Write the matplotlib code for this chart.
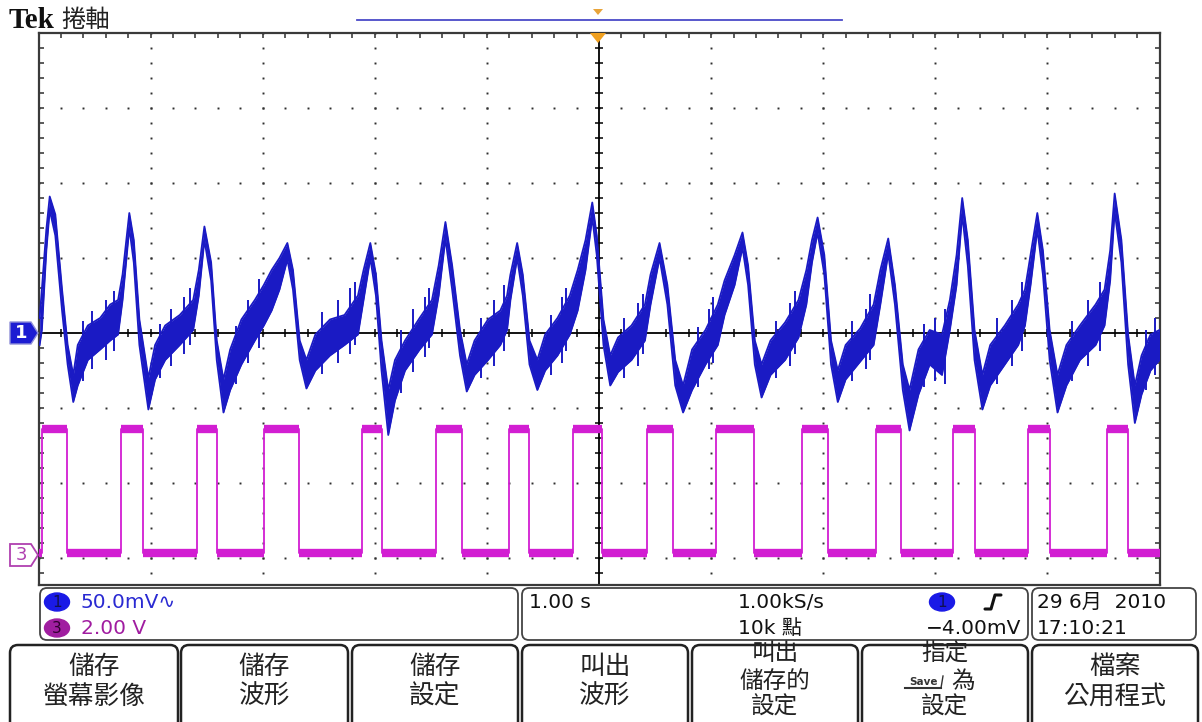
import matplotlib
matplotlib.use("Agg")
import matplotlib.pyplot as plt
import numpy as np
from matplotlib.patches import FancyBboxPatch, Polygon, Ellipse

plt.rcParams['font.family'] = ['DejaVu Sans', 'Noto Sans CJK TC']

# ---- acquisition settings ----
time_per_div_s = 1.00
ch1_mv_per_div = 50.0
ch3_v_per_div = 2.00
ch1_position_div = 0.0
ch3_position_div = -3.0
trigger_level_mv = -4.00

# ---- channel 1: min/max envelope of the acquired record ----
ch1_t = [
    -4.99, -4.97, -4.93, -4.90, -4.85, -4.79, -4.74, -4.69, -4.65, -4.56, -4.45, -4.36, -4.29,
    -4.25, -4.19, -4.15, -4.10, -4.02, -3.96, -3.87, -3.74, -3.62,
    -3.57, -3.52, -3.46, -3.41, -3.35, -3.29, -3.19, -3.07, -2.99,
    -2.92, -2.85, -2.78, -2.73, -2.67, -2.61, -2.53, -2.40, -2.27, -2.15,
    -2.10, -2.04, -1.99, -1.94, -1.88, -1.82, -1.73, -1.60, -1.49,
    -1.43, -1.37, -1.31, -1.24, -1.18, -1.11, -0.99, -0.88, -0.82,
    -0.79, -0.73, -0.68, -0.62, -0.55, -0.48, -0.37, -0.26,
    -0.19, -0.12, -0.06, -0.02, 0.04, 0.10, 0.17, 0.29, 0.41,
    0.46, 0.54, 0.61, 0.68, 0.75, 0.83, 0.95, 1.06,
    1.12, 1.21, 1.28, 1.33, 1.39, 1.45, 1.53, 1.66, 1.78,
    1.85, 1.90, 1.95, 2.01, 2.07, 2.13, 2.20, 2.33, 2.45,
    2.51, 2.58, 2.64, 2.71, 2.77, 2.85, 2.95, 3.06, 3.13,
    3.19, 3.24, 3.29, 3.35, 3.42, 3.49, 3.62, 3.74, 3.80,
    3.85, 3.91, 3.96, 4.02, 4.09, 4.17, 4.29, 4.43, 4.51,
    4.56, 4.60, 4.66, 4.72, 4.78, 4.84, 4.92, 5.00,
]
ch1_max_mv = [
    10, 29, 69, 91, 79, 29, -8, -28, -8, 5, 10, 19, 22,
    39, 80, 62, 9, -30, -8, 5, 12, 22,
    42, 71, 47, -5, -31, -11, 9, 22, 32,
    42, 50, 60, 42, -5, -18, -1, 9, 12, 25,
    42, 60, 39, -5, -38, -18, -5, 10, 22,
    45, 74, 45, 2, -21, -5, 9, 15, 25,
    39, 60, 39, -5, -18, -1, 10, 25,
    42, 62, 87, 65, 9, -15, -3, 5, 19,
    39, 60, 32, -18, -35, -11, 2, 19,
    35, 52, 67, 45, -5, -21, -5, 7, 22,
    42, 62, 77, 52, -5, -25, -8, 3, 19,
    42, 63, 32, -21, -38, -11, 2, -1, 22,
    52, 90, 62, 2, -28, -8, 5, 19, 29,
    52, 80, 55, 2, -28, -8, 5, 19, 29,
    55, 93, 62, -1, -35, -15, -1, 2,
]
ch1_min_mv = [
    -8, 2, 55, 82, 65, 15, -21, -46, -35, -18, -11, -5, -1,
    22, 70, 47, -8, -51, -31, -18, -8, 2,
    25, 62, 35, -18, -53, -38, -21, -5, 5,
    15, 29, 49, 29, -18, -37, -25, -15, -8, -1,
    22, 50, 25, -25, -68, -45, -25, -11, -1,
    25, 63, 29, -15, -39, -28, -18, -8, 2,
    22, 50, 25, -21, -38, -25, -15, -1,
    15, 42, 77, 52, -8, -35, -26, -18, -5,
    19, 50, 19, -35, -53, -38, -21, -8,
    12, 32, 57, 32, -21, -43, -28, -18, -3,
    19, 47, 67, 39, -21, -46, -31, -19, -8,
    19, 53, 19, -38, -65, -41, -21, -28, 2,
    32, 79, 45, -18, -51, -35, -21, -8, 5,
    32, 69, 39, -18, -53, -35, -18, -8, 5,
    35, 81, 47, -21, -60, -41, -25, -18,
]

# noise excursions beyond the envelope on the slow recovery ramps
ch1_spike_t = [
    -4.60, -4.52, -4.40, -4.33,
    -3.92, -3.82, -3.70, -3.65,
    -3.24, -3.13, -3.03,
    -2.47, -2.33, -2.22, -2.18,
    -1.77, -1.66, -1.55, -1.52,
    -1.05, -0.94, -0.85,
    -0.43, -0.33, -0.29,
    0.22, 0.35, 0.39,
    0.88, 0.98, 1.02,
    1.58, 1.70, 1.75,
    2.26, 2.38, 2.42,
    2.90, 3.00, 3.09,
    3.55, 3.68, 3.77,
    4.22, 4.36, 4.47,
    4.88, 4.96,
]
ch1_spike_top_mv = [
    8, 15, 22, 28,
    6, 16, 24, 30,
    5, 22, 36,
    14, 22, 30, 34,
    2, 16, 24, 30,
    10, 22, 32,
    12, 24, 30,
    10, 20, 26,
    4, 16, 24,
    8, 20, 28,
    8, 16, 26,
    6, 10, 16,
    10, 22, 34,
    8, 22, 34,
    2, 10,
]
ch1_spike_bot_mv = [
    -32, -24, -18, -12,
    -30, -22, -14, -8,
    -34, -20, -10,
    -27, -20, -14, -8,
    -40, -26, -16, -10,
    -30, -22, -12,
    -28, -20, -12,
    -30, -22, -14,
    -36, -24, -20,
    -30, -22, -14,
    -32, -24, -18,
    -36, -32, -34,
    -34, -22, -12,
    -32, -22, -12,
    -38, -28,
]

# ---- channel 3: logic square wave (first edge is a rising edge) ----
ch3_edges_s = [
    -4.97, -4.75, -4.26, -4.07, -3.59, -3.41, -2.99, -2.68, -2.11, -1.94,
    -1.45, -1.22, -0.80, -0.62, -0.23, 0.03, 0.43, 0.66, 1.04, 1.38,
    1.81, 2.04, 2.47, 2.69, 3.16, 3.35, 3.83, 4.02, 4.53, 4.72,
]
ch3_high_v = 3.45
ch3_low_v = 0.13

# ---- readouts ----
ch1_scale_label = "50.0mV\u223f"
ch3_scale_label = "2.00 V"
timebase_label = "1.00 s"
sample_rate_label = "1.00kS/s"
record_label = "10k 點"
trigger_label = "\u22124.00mV"
date_label = "29 6月  2010"
clock_label = "17:10:21"
menu_title = "捲軸"
menu_buttons = [
    ["儲存", "螢幕影像"],
    ["儲存", "波形"],
    ["儲存", "設定"],
    ["叫出", "波形"],
    ["叫出", "儲存的", "設定"],
    ["指定", "為", "設定"],
    ["檔案", "公用程式"],
]

CH1_COLOR = '#1a1ac4'
CH3_COLOR = '#d21ed2'
CH3_TEXT = '#a01ca0'
GRID = '#2e2e2e'

W, H = 1202, 722
fig = plt.figure(figsize=(W / 100, H / 100), dpi=100)
fig.patch.set_facecolor('white')

# screen area: 10 x 7.36 divisions visible
scr_left, scr_right, scr_top, scr_bot = 38.5, 1159.5, 33, 585
ax = fig.add_axes([scr_left / W, (H - scr_bot) / H,
                   (scr_right - scr_left) / W, (scr_bot - scr_top) / H])
ax.set_xlim(-5, 5)
ax.set_ylim(-(scr_bot - 333) / 75.0, 4.0)
ax.set_xticks([])
ax.set_yticks([])
for s in ax.spines.values():
    s.set_color('#3a3a3a')
    s.set_linewidth(1.6)

# graticule
minor_x = np.round(np.arange(-25, 26) * 0.2, 3)
minor_y = np.round(np.arange(-16, 21) * 0.2, 3)
for xv in range(-4, 5):
    if xv == 0:
        continue
    ax.plot(np.full(minor_y.shape, xv), minor_y, ls='none', marker='s', ms=1.4,
            color=GRID, mew=0, zorder=1)
for yv in range(-3, 4):
    if yv == 0:
        continue
    ax.plot(minor_x, np.full(minor_x.shape, yv), ls='none', marker='s', ms=1.4,
            color=GRID, mew=0, zorder=1)
ax.axvline(0, color='black', lw=1.3, zorder=1)
ax.axhline(0, color='black', lw=1.3, zorder=1)
ax.plot(np.zeros(minor_y.shape), minor_y, ls='none', marker='_', ms=6, mew=1.1,
        color='black', zorder=1)
ax.plot(minor_x, np.zeros(minor_x.shape), ls='none', marker='|', ms=6, mew=1.1,
        color='black', zorder=1)
# border ticks
ax.plot(minor_x, np.full(minor_x.shape, 4.0), ls='none', marker='|', ms=7, mew=1.1,
        color=GRID, zorder=1)
ax.plot(np.full(minor_y.shape, -5.0), minor_y, ls='none', marker='_', ms=7, mew=1.1,
        color=GRID, zorder=1)
ax.plot(np.full(minor_y.shape, 5.0), minor_y, ls='none', marker='_', ms=7, mew=1.1,
        color=GRID, zorder=1)

# channel 3 trace
t3 = [-5 * time_per_div_s]
v3 = [ch3_low_v]
level = ch3_low_v
seg_start = t3[0]
segments = []
for e in ch3_edges_s:
    new = ch3_high_v if level == ch3_low_v else ch3_low_v
    segments.append((seg_start, e, level))
    t3 += [e, e]
    v3 += [level, new]
    level = new
    seg_start = e
t3.append(5 * time_per_div_s)
v3.append(level)
segments.append((seg_start, t3[-1], level))


def to_div3(v):
    return np.asarray(v) / ch3_v_per_div + ch3_position_div


ax.plot(np.asarray(t3) / time_per_div_s, to_div3(v3), color=CH3_COLOR, lw=1.3, zorder=3)
for a, b, lv in segments:
    ax.plot([a / time_per_div_s, b / time_per_div_s], [to_div3(lv)] * 2,
            color=CH3_COLOR, lw=6.0, solid_capstyle='butt', zorder=3)

# channel 1 trace
t1 = np.asarray(ch1_t) / time_per_div_s
hi1 = np.asarray(ch1_max_mv) / ch1_mv_per_div + ch1_position_div
lo1 = np.asarray(ch1_min_mv) / ch1_mv_per_div + ch1_position_div
ax.fill_between(t1, lo1, hi1, color=CH1_COLOR, lw=0, zorder=4)
ax.plot(t1, hi1, color=CH1_COLOR, lw=1.3, zorder=4)
ax.plot(t1, lo1, color=CH1_COLOR, lw=1.3, zorder=4)
ax.vlines(np.asarray(ch1_spike_t) / time_per_div_s,
          np.asarray(ch1_spike_bot_mv) / ch1_mv_per_div + ch1_position_div,
          np.asarray(ch1_spike_top_mv) / ch1_mv_per_div + ch1_position_div,
          color=CH1_COLOR, lw=1.4, zorder=4)

# ---- overlay in pixel coordinates ----
ov = fig.add_axes([0, 0, 1, 1])
ov.set_xlim(0, W)
ov.set_ylim(H, 0)
ov.axis('off')
ov.patch.set_alpha(0)
ov.set_zorder(5)

ov.text(9, 21, "Tek", family='Liberation Serif', weight='bold', fontsize=21,
        va='center', ha='left', color='#111111')
ov.text(61, 20, menu_title, family=['Noto Sans CJK TC'], fontsize=17.5,
        va='center', ha='left', color='#222222')

# record window bar and trigger markers
ov.plot([357, 842], [20, 20], color='#4a4ac8', lw=1.3)
ov.add_patch(Polygon([[593, 9], [603, 9], [598, 15]], closed=True, color='#e8a43a', lw=0))
ov.add_patch(Polygon([[590, 33], [606, 33], [598, 43]], closed=True, color='#f0a020', lw=0))

# channel ground markers
ov.add_patch(Polygon([[10, 322], [31, 322], [38, 333], [31, 344], [10, 344]], closed=True,
                     facecolor='#1c1cd2', edgecolor='#8f8fd8', lw=1.0))
ov.text(21, 333.5, "1", color='white', fontsize=13, weight='bold', ha='center', va='center')
ov.add_patch(Polygon([[10, 544], [31, 544], [38, 555], [31, 566], [10, 566]], closed=True,
                     facecolor='white', edgecolor='#b040b0', lw=1.3))
ov.text(21, 555.5, "3", color='#b040b0', fontsize=13, ha='center', va='center')

# trigger level marker on the right edge
trig_y = 333 - trigger_level_mv / ch1_mv_per_div * 75
ov.add_patch(Polygon([[1147, trig_y], [1157, trig_y - 6], [1157, trig_y + 6]], closed=True,
                     color=CH1_COLOR, lw=0))


def rbox(x0, y0, w, h, r=7, lw=1.3, ec='#444444'):
    ov.add_patch(FancyBboxPatch((x0, y0), w, h, boxstyle=f"round,pad=0,rounding_size={r}",
                                facecolor='white', edgecolor=ec, lw=lw))


# readout boxes
rbox(40, 588, 478, 52)
rbox(522, 588, 506, 52)
rbox(1032, 588, 164, 52)

ov.add_patch(Ellipse((57, 602), 25, 18, color='#1a1ae6'))
ov.text(57, 602.5, "1", fontsize=11, ha='center', va='center', color='#101050')
ov.add_patch(Ellipse((57, 628), 25, 18, color='#a01ea0'))
ov.text(57, 628.5, "3", fontsize=11, ha='center', va='center', color='#300030')
fs = 14.5
ov.text(81, 602, ch1_scale_label, fontsize=fs, color='#2a2ad2', va='center')
ov.text(81, 628, ch3_scale_label, fontsize=fs, color=CH3_TEXT, va='center')
ov.text(529, 602, timebase_label, fontsize=fs, color='#111111', va='center')
ov.text(738, 602, sample_rate_label, fontsize=fs, color='#111111', va='center')
ov.text(738, 628, record_label, fontsize=fs, color='#111111', va='center')
ov.add_patch(Ellipse((942, 602), 25, 18, color='#1a1ae6'))
ov.text(942, 602.5, "1", fontsize=11, ha='center', va='center', color='#101050')
ov.plot([985, 991, 995, 1001], [609, 609, 595, 595], color='#111111', lw=2.2,
        solid_capstyle='round')
ov.text(1021, 628, trigger_label, fontsize=fs, color='#111111', va='center', ha='right')
ov.text(1037, 602, date_label, fontsize=fs, color='#111111', va='center')
ov.text(1037, 628, clock_label, fontsize=fs, color='#111111', va='center')

# soft-key menu
btn_x = [(10, 178), (181, 348), (352, 518), (522, 688), (692, 858), (862, 1028), (1032, 1198)]
for (x0, x1), lines in zip(btn_x, menu_buttons):
    rbox(x0, 645, x1 - x0, 95, r=8, lw=1.8, ec='#222222')
    cx = (x0 + x1) / 2
    if len(lines) == 2:
        ys, fsz = [667, 697], 18.5
    else:
        ys, fsz = [654, 681, 707], 17
    for y, s in zip(ys, lines):
        if s == "為":
            ov.text(cx - 22, y + 1, "Save", fontsize=7.5, weight='bold', ha='center',
                    va='center', color='#333333')
            ov.plot([cx - 40, cx - 4], [y + 7, y + 7], color='#333333', lw=1.5)
            ov.plot([cx - 4, cx - 2], [y + 7, y - 5], color='#333333', lw=1.0)
            ov.text(cx + 18, y, s, family=['Noto Sans CJK TC'], fontsize=fsz,
                    ha='center', va='center', color='#222222')
        else:
            ov.text(cx, y, s, family=['Noto Sans CJK TC'], fontsize=fsz,
                    ha='center', va='center', color='#222222')

fig.savefig("out.png", dpi=100, facecolor='white')
